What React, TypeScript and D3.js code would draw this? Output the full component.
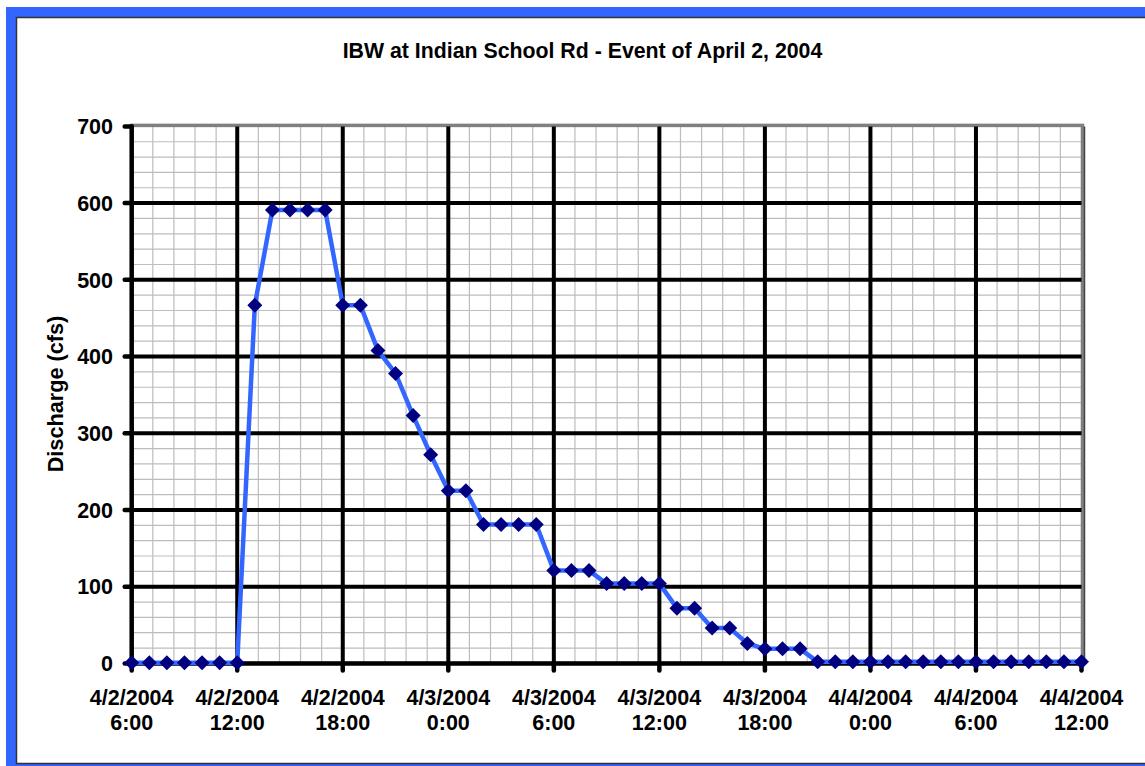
import React from 'react';
import * as d3 from 'd3';

// Hourly discharge readings, starting 4/2/2004 6:00
const startTime = new Date(2004, 3, 2, 6, 0);
const endTime = new Date(2004, 3, 4, 12, 0);
const discharge = [
  1, 1, 1, 1, 1, 1, 1,
  467, 591, 591, 591, 591,
  467, 467, 408, 378, 323, 272,
  225, 225, 181, 181, 181, 181,
  121, 121, 121, 104, 104, 104, 104,
  72, 72, 46, 46, 26,
  19, 19, 19,
  2, 2, 2, 2, 2, 2, 2, 2, 2, 2, 2, 2, 2, 2, 2, 2,
];
const yTicks = [0, 100, 200, 300, 400, 500, 600, 700];

const title = 'IBW at Indian School Rd - Event of April 2, 2004';
const yLabel = 'Discharge (cfs)';

const W = 1145;
const H = 766;
const plot = { left: 131.7, right: 1081.5, top: 126.4, bottom: 663.4 };
const font = '"Liberation Sans", Arial, sans-serif';

const App = () => {
  const x = d3.scaleTime().domain([startTime, endTime]).range([plot.left, plot.right]);
  const y = d3.scaleLinear().domain([0, 700]).range([plot.bottom, plot.top]);

  const points = discharge.map((v, i) => ({ t: d3.timeHour.offset(startTime, i), v }));
  const line = d3.line<{ t: Date; v: number }>().x(d => x(d.t)).y(d => y(d.v));

  const majorX = d3.timeHour.every(6)!.range(startTime, d3.timeHour.offset(endTime, 1));
  // Excel minor unit of 0.05 day = 72 minutes
  const minorX = d3.range(0, 54 * 60 + 1, 72).map(m => d3.timeMinute.offset(startTime, m));
  const minorY = d3.range(0, 701, 20);

  const fmtDate = d3.timeFormat('%-m/%-d/%Y');
  const fmtHour = d3.timeFormat('%-H:%M');

  const diamond = 7.5;

  return (
    <div style={{ position: 'absolute', left: 0, top: 0 }}>
      <svg width={W} height={H} style={{ display: 'block', fontFamily: font }}>
        <rect x={0} y={0} width={W} height={H} fill="#fff" />
        <rect x={6} y={7} width={W + 20} height={H} fill="#3366FF" />
        <rect x={16.5} y={17.5} width={W + 20} height={746} fill="#fff" stroke="#333" strokeWidth={1.5} />

        <text x={582.5} y={58} textAnchor="middle" fontSize={21.3} fontWeight="bold">
          {title}
        </text>

        {/* minor grid */}
        <g stroke="#bdbdbd" strokeWidth={1.2}>
          {minorX.map((t, i) => (
            <line key={'mx' + i} x1={x(t)} x2={x(t)} y1={plot.top} y2={plot.bottom} />
          ))}
          {minorY.map(v => (
            <line key={'my' + v} x1={plot.left} x2={plot.right} y1={y(v)} y2={y(v)} />
          ))}
        </g>

        {/* plot border */}
        <rect
          x={plot.left}
          y={plot.top - 1}
          width={plot.right - plot.left + 1}
          height={plot.bottom - plot.top + 1}
          fill="none"
          stroke="#808080"
          strokeWidth={3.5}
        />
        <line x1={plot.right + 3} x2={plot.right + 3} y1={plot.top} y2={plot.bottom} stroke="#444" strokeWidth={1.5} />

        {/* major grid */}
        <g stroke="#000" strokeWidth={4}>
          {majorX.slice(1, -1).map((t, i) => (
            <line key={'Mx' + i} x1={x(t)} x2={x(t)} y1={plot.top} y2={plot.bottom} />
          ))}
          {yTicks.slice(1, -1).map(v => (
            <line key={'My' + v} x1={plot.left} x2={plot.right} y1={y(v)} y2={y(v)} />
          ))}
        </g>

        {/* axes */}
        <g stroke="#000" strokeWidth={4.5} strokeLinecap="round">
          <line x1={plot.left} x2={plot.left} y1={plot.top} y2={plot.bottom} />
          <line x1={plot.left} x2={plot.right} y1={plot.bottom} y2={plot.bottom} />
          {yTicks.map(v => (
            <line key={'ty' + v} x1={plot.left - 7} x2={plot.left} y1={y(v)} y2={y(v)} />
          ))}
          {majorX.map((t, i) => (
            <line key={'tx' + i} x1={x(t)} x2={x(t)} y1={plot.bottom} y2={plot.bottom + 7} />
          ))}
        </g>

        {/* y tick labels */}
        <g fontSize={21.5} fontWeight="bold" textAnchor="end">
          {yTicks.map(v => (
            <text key={'ly' + v} x={113} y={y(v)} dy="0.36em">
              {v}
            </text>
          ))}
        </g>

        {/* x tick labels */}
        <g fontSize={21.5} fontWeight="bold" textAnchor="middle">
          {majorX.map((t, i) => (
            <g key={'lx' + i}>
              <text x={x(t)} y={705}>{fmtDate(t)}</text>
              <text x={x(t)} y={730}>{fmtHour(t)}</text>
            </g>
          ))}
        </g>

        <text
          transform="translate(63,394) rotate(-90)"
          textAnchor="middle"
          fontSize={21.7}
          fontWeight="bold"
        >
          {yLabel}
        </text>

        {/* series */}
        <path d={line(points) ?? ''} fill="none" stroke="#3366FF" strokeWidth={4.5} strokeLinejoin="round" />
        <g fill="#000080">
          {points.map((p, i) => {
            const cx = x(p.t);
            const cy = y(p.v);
            return (
              <path
                key={'m' + i}
                d={`M${cx},${cy - diamond}L${cx + diamond},${cy}L${cx},${cy + diamond}L${cx - diamond},${cy}Z`}
              />
            );
          })}
        </g>
      </svg>
    </div>
  );
};

export default App;
